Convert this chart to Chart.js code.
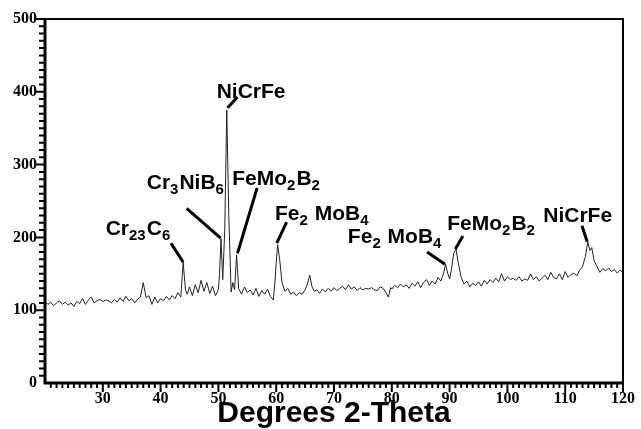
<!DOCTYPE html>
<html>
<head>
<meta charset="utf-8">
<script src="https://cdn.jsdelivr.net/npm/chart.js@4.4.1/dist/chart.umd.min.js"></script>
<style>
  html, body { margin: 0; padding: 0; background: #fff; }
  #wrap { width: 641px; height: 429px; position: relative; }
</style>
</head>
<body>
<div id="wrap"><canvas id="xrd"></canvas></div>
<script>
// diffraction pattern (degrees 2-theta / counts)
const twoTheta = [
  20.0, 20.5, 21.0, 21.5, 22.0, 22.5, 23.0, 23.5, 24.0, 24.5,
  25.0, 25.5, 26.0, 26.5, 27.0, 27.5, 28.0, 28.5, 29.0, 29.5,
  30.0, 30.5, 31.0, 31.5, 32.0, 32.5, 33.0, 33.5, 34.0, 34.5,
  35.0, 35.5, 36.0, 36.5, 37.0, 37.5, 38.0, 38.5, 39.0, 39.5,
  40.0, 40.5, 41.0, 41.5, 42.0, 42.5, 43.0, 43.5, 43.9, 44.3,
  44.6, 45.0, 45.5, 46.0, 46.5, 47.0, 47.5, 48.0, 48.5, 49.0,
  49.5, 50.0, 50.2, 50.45, 50.75, 51.1, 51.45, 51.8, 52.2, 52.5,
  52.8, 53.15, 53.5, 54.0, 54.5, 55.0, 55.5, 56.0, 56.5, 57.0,
  57.5, 58.0, 58.5, 59.0, 59.5, 59.8, 60.0, 60.25, 60.6, 61.0,
  61.5, 62.0, 62.5, 63.0, 63.5, 64.0, 64.5, 65.0, 65.4, 65.8,
  66.2, 66.6, 67.0, 67.5, 68.0, 68.5, 69.0, 69.5, 70.0, 70.5,
  71.0, 71.5, 72.0, 72.5, 73.0, 73.5, 74.0, 74.5, 75.0, 75.5,
  76.0, 76.5, 77.0, 77.5, 78.0, 78.5, 79.0, 79.4, 79.8, 80.0,
  80.5, 81.0, 81.5, 82.0, 82.5, 83.0, 83.5, 84.0, 84.5, 85.0,
  85.5, 86.0, 86.5, 87.0, 87.5, 88.0, 88.5, 89.0, 89.3, 89.7,
  90.0, 90.3, 90.7, 91.1, 91.5, 92.0, 92.5, 93.0, 93.5, 94.0,
  94.5, 95.0, 95.5, 96.0, 96.5, 97.0, 97.5, 98.0, 98.5, 99.0,
  99.5, 100.0, 100.5, 101.0, 101.5, 102.0, 102.5, 103.0, 103.5, 104.0,
  104.5, 105.0, 105.5, 106.0, 106.5, 107.0, 107.5, 108.0, 108.5, 109.0,
  109.5, 110.0, 110.5, 111.0, 111.5, 112.0, 112.5, 113.0, 113.5, 113.9,
  114.3, 114.6, 115.0, 115.5, 116.0, 116.5, 117.0, 117.5, 118.0, 118.5,
  119.0, 119.5, 120.0
];
const counts = [
  112, 108, 111, 106, 110, 113, 108, 111, 107, 110,
  105, 112, 109, 116, 108, 114, 118, 110, 113, 115,
  112, 114, 113, 110, 115, 111, 117, 112, 119, 113,
  116, 110, 115, 118, 138, 117, 120, 108, 118, 110,
  116, 113, 119, 114, 120, 116, 124, 118, 166, 128,
  122, 132, 120, 135, 124, 141, 126, 138, 123, 133,
  120, 128, 150, 198, 142, 210, 375, 230, 125, 138,
  128, 176, 130, 122, 132, 124, 128, 121, 130, 119,
  127, 122, 129, 119, 114, 140, 165, 190, 170, 138,
  126, 130, 122, 125, 120, 124, 122, 128, 136, 148,
  132, 126, 128, 123, 129, 125, 130, 126, 131, 127,
  130, 133, 128, 135, 129, 132, 127, 131, 128, 130,
  129, 131, 128, 127, 132, 130, 124, 118, 131, 129,
  134, 131, 136, 132, 135, 130, 137, 133, 139, 131,
  138, 142, 134, 140, 136, 145, 140, 152, 163, 150,
  143, 155, 178, 184, 165, 145, 136, 140, 132, 137,
  134, 139, 133, 141, 136, 142, 138, 144, 139, 150,
  140, 146, 142, 144, 141, 146, 140, 143, 141, 150,
  142, 146, 140, 144, 148, 142, 152, 145, 143, 150,
  142, 153, 145, 149, 151, 147, 155, 160, 174, 194,
  182, 186, 168, 160, 152, 157, 154, 158, 153, 156,
  151, 155, 152
];

const xTicks = [30, 40, 50, 60, 70, 80, 90, 100, 110, 120];
const yTicks = [0, 100, 200, 300, 400, 500];

// phase names; second entry of each part marks a subscript
const phaseNames = [
  [['Cr', 0], ['23', 1], ['C', 0], ['6', 1]],
  [['Cr', 0], ['3', 1], ['NiB', 0], ['6', 1]],
  [['NiCrFe', 0]],
  [['FeMo', 0], ['2', 1], ['B', 0], ['2', 1]],
  [['Fe', 0], ['2', 1], [' MoB', 0], ['4', 1]],
  [['Fe', 0], ['2', 1], [' MoB', 0], ['4', 1]],
  [['FeMo', 0], ['2', 1], ['B', 0], ['2', 1]],
  [['NiCrFe', 0]]
];
// where each name sits and where its pointer goes, in axis units
const namePlacement = [
  { text: [30.5, 203], from: [41.8, 192], to: [43.9, 166] },
  { text: [37.6, 267], from: [44.5, 240], to: [50.4, 199] },
  { text: [49.7, 391], from: [53.3, 393], to: [51.6, 378] },
  { text: [52.4, 272], from: [56.7, 268], to: [53.3, 178] },
  { text: [59.8, 224], from: [61.8, 221], to: [60.1, 192] },
  { text: [72.4, 192], from: [86.1, 180], to: [89.2, 163] },
  { text: [89.6, 210], from: [92.3, 202], to: [91.0, 184] },
  { text: [106.2, 221], from: [112.9, 216], to: [113.8, 194] }
];

const decor = {
  id: 'decor',
  afterDraw(chart) {
    const ctx = chart.ctx;
    const a = chart.chartArea;
    const xs = chart.scales.x;
    const ys = chart.scales.y;
    ctx.save();
    ctx.strokeStyle = '#000';
    ctx.fillStyle = '#000';

    // box
    ctx.lineWidth = 2;
    ctx.strokeRect(a.left, a.top, a.right - a.left, a.bottom - a.top);
    ctx.lineWidth = 3;
    ctx.beginPath();
    ctx.moveTo(a.left, a.top);
    ctx.lineTo(a.left, a.bottom);
    ctx.lineTo(a.right, a.bottom);
    ctx.stroke();

    // minor + major tick marks
    ctx.lineWidth = 2;
    ctx.beginPath();
    for (let v = 21; v <= 120; v++) {
      const px = xs.getPixelForValue(v);
      const len = v % 10 === 0 ? 9 : 5;
      ctx.moveTo(px, a.bottom);
      ctx.lineTo(px, a.bottom + len);
    }
    for (let v = 10; v <= 500; v += 10) {
      const py = ys.getPixelForValue(v);
      const len = v % 100 === 0 ? 10 : 6;
      ctx.moveTo(a.left, py);
      ctx.lineTo(a.left - len, py);
    }
    ctx.stroke();

    // phase labels with pointers
    ctx.lineWidth = 3;
    ctx.textBaseline = 'alphabetic';
    phaseNames.forEach((parts, i) => {
      const p = namePlacement[i];
      let x = xs.getPixelForValue(p.text[0]);
      const y = ys.getPixelForValue(p.text[1]);
      parts.forEach(([s, sub]) => {
        ctx.font = sub ? 'bold 15px "Liberation Sans"' : 'bold 21px "Liberation Sans"';
        ctx.fillText(s, x, sub ? y + 5 : y);
        x += ctx.measureText(s).width + (sub ? 1 : 0);
      });
      ctx.beginPath();
      ctx.moveTo(xs.getPixelForValue(p.from[0]), ys.getPixelForValue(p.from[1]));
      ctx.lineTo(xs.getPixelForValue(p.to[0]), ys.getPixelForValue(p.to[1]));
      ctx.stroke();
    });
    ctx.restore();
  }
};

const tickFont = { family: '"Liberation Serif"', size: 16, weight: 'bold' };

new Chart(document.getElementById('xrd'), {
  type: 'line',
  data: {
    datasets: [{
      data: twoTheta.map((t, i) => ({ x: t, y: counts[i] })),
      borderColor: '#222',
      borderWidth: 1,
      pointRadius: 0,
      tension: 0
    }]
  },
  options: {
    responsive: true,
    maintainAspectRatio: false,
    animation: false,
    layout: { padding: { top: 19, right: 9, left: 0, bottom: 0 } },
    plugins: { legend: { display: false }, tooltip: { enabled: false } },
    scales: {
      x: {
        type: 'linear',
        min: 20,
        max: 120,
        afterBuildTicks: s => { s.ticks = xTicks.map(v => ({ value: v })); },
        afterFit: s => { s.height = 46; },
        ticks: { font: tickFont, color: '#000', padding: 6, maxRotation: 0 },
        grid: { display: false, drawTicks: false },
        border: { display: false },
        title: {
          display: true,
          text: 'Degrees 2-Theta',
          color: '#000',
          font: { family: '"Liberation Sans"', size: 30, weight: 'bold', lineHeight: 1 },
          padding: { top: 0, bottom: 0 }
        }
      },
      y: {
        min: 0,
        max: 500,
        afterBuildTicks: s => { s.ticks = yTicks.map(v => ({ value: v })); },
        afterFit: s => { s.width = 45; },
        ticks: { font: tickFont, color: '#000', padding: 8 },
        grid: { display: false, drawTicks: false },
        border: { display: false }
      }
    }
  },
  plugins: [decor]
});
</script>
</body>
</html>
